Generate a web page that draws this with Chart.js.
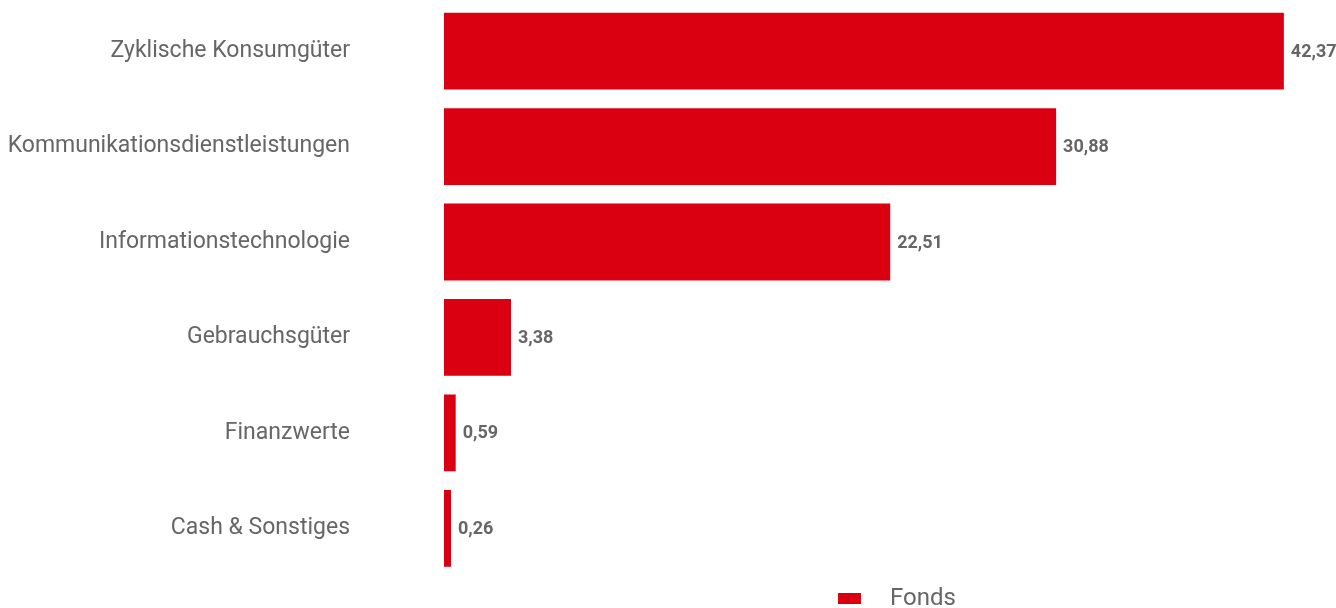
<!DOCTYPE html>
<html>
<head>
<meta charset="utf-8">
<script src="https://cdn.jsdelivr.net/npm/chart.js@4"></script>
<style>
  body { margin: 0; background: #fff; }
  #wrap { width: 1336px; height: 608px; position: relative; }
</style>
</head>
<body>
<div id="wrap"><canvas id="myChart"></canvas></div>
<script>
const categories = ['Zyklische Konsumgüter', 'Kommunikationsdienstleistungen', 'Informationstechnologie', 'Gebrauchsgüter', 'Finanzwerte', 'Cash & Sonstiges'];
const fondsValues = [42.37, 30.88, 22.51, 3.38, 0.59, 0.26];
const seriesName = 'Fonds';

const red = '#db0011';
const grey = '#666666';
const fontFamily = 'Roboto, "Liberation Sans", sans-serif';

// value labels to the right of each bar
const valueLabels = {
  id: 'valueLabels',
  afterDatasetsDraw(chart) {
    const ctx = chart.ctx;
    const meta = chart.getDatasetMeta(0);
    ctx.save();
    ctx.font = 'bold 18px ' + fontFamily;
    ctx.fillStyle = grey;
    ctx.textBaseline = 'middle';
    ctx.textAlign = 'left';
    meta.data.forEach(function (bar, i) {
      const txt = fondsValues[i].toFixed(2).replace('.', ',');
      ctx.fillText(txt, bar.x + 7, bar.y + 1);
    });
    ctx.restore();
  }
};

// legend under the plot
const bottomLegend = {
  id: 'bottomLegend',
  afterDraw(chart) {
    const ctx = chart.ctx;
    const ds = chart.data.datasets[0];
    ctx.save();
    ctx.fillStyle = ds.backgroundColor;
    ctx.fillRect(838, 593, 23, 11);
    ctx.font = '24px ' + fontFamily;
    ctx.fillStyle = grey;
    ctx.textBaseline = 'middle';
    ctx.textAlign = 'left';
    ctx.fillText(ds.label, 890, 599);
    ctx.restore();
  }
};

const ctx = document.getElementById('myChart');

new Chart(ctx, {
  type: 'bar',
  data: {
    labels: categories,
    datasets: [{
      label: seriesName,
      data: fondsValues,
      backgroundColor: red,
      borderWidth: 0,
      minBarLength: 7,
      categoryPercentage: 0.805,
      barPercentage: 1.0
    }]
  },
  options: {
    indexAxis: 'y',
    responsive: true,
    maintainAspectRatio: false,
    animation: false,
    layout: { padding: { top: 3, bottom: 32, right: 0, left: 0 } },
    plugins: {
      legend: { display: false },
      tooltip: { enabled: false }
    },
    scales: {
      x: {
        display: false,
        min: 0,
        max: 45
      },
      y: {
        // tick length used as the gap between labels and bars
        grid: { display: false, drawTicks: true, tickLength: 94 },
        border: { display: false },
        ticks: {
          color: grey,
          padding: 0,
          font: { family: fontFamily, size: 23, lineHeight: 0.3 }
        },
        afterFit(scale) { scale.width = 444; }
      }
    }
  },
  plugins: [valueLabels, bottomLegend]
});
</script>
</body>
</html>
